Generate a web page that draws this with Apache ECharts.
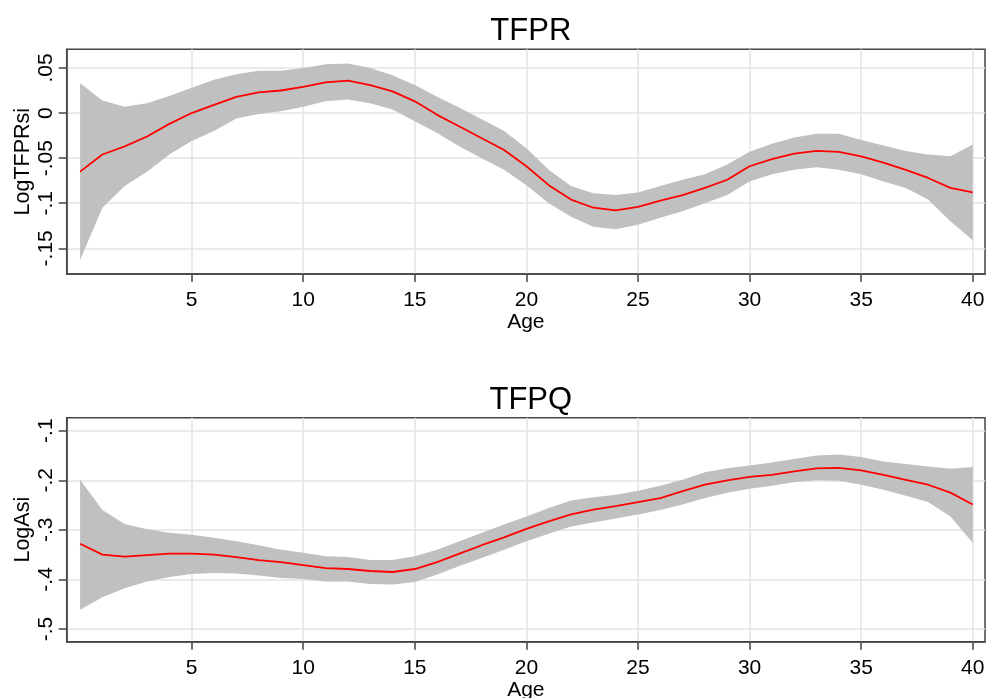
<!DOCTYPE html>
<html>
<head>
<meta charset="utf-8">
<script src="https://cdn.jsdelivr.net/npm/echarts@6/dist/echarts.min.js"></script>
<style>
html,body{margin:0;padding:0;background:#fff;}
#c{width:987px;height:698px;}
</style>
</head>
<body>
<div id="c"></div>
<script>
const ages = [0,1,2,3,4,5,6,7,8,9,10,11,12,13,14,15,16,17,18,19,20,21,22,23,24,25,26,27,28,29,30,31,32,33,34,35,36,37,38,39,40];

const tfpr = [-0.065,-0.046,-0.037,-0.026,-0.012,0.000,0.009,0.018,0.023,0.025,0.029,0.034,0.036,0.031,0.024,0.013,-0.002,-0.015,-0.028,-0.041,-0.059,-0.080,-0.096,-0.105,-0.108,-0.104,-0.097,-0.091,-0.083,-0.074,-0.059,-0.051,-0.045,-0.042,-0.043,-0.048,-0.055,-0.063,-0.072,-0.083,-0.088];
const tfprUpper = [0.033,0.014,0.007,0.011,0.019,0.028,0.037,0.043,0.047,0.047,0.050,0.054,0.055,0.050,0.042,0.031,0.018,0.006,-0.007,-0.020,-0.039,-0.063,-0.081,-0.089,-0.091,-0.088,-0.081,-0.074,-0.068,-0.057,-0.043,-0.034,-0.027,-0.023,-0.023,-0.030,-0.036,-0.042,-0.046,-0.048,-0.035];
const tfprLower = [-0.163,-0.105,-0.081,-0.065,-0.046,-0.031,-0.020,-0.006,-0.001,0.002,0.007,0.013,0.015,0.011,0.004,-0.009,-0.022,-0.037,-0.050,-0.063,-0.080,-0.100,-0.115,-0.126,-0.129,-0.124,-0.116,-0.109,-0.100,-0.091,-0.076,-0.068,-0.063,-0.060,-0.063,-0.068,-0.076,-0.083,-0.096,-0.120,-0.141];

const tfpq = [-0.328,-0.350,-0.354,-0.351,-0.348,-0.348,-0.350,-0.355,-0.361,-0.365,-0.371,-0.377,-0.379,-0.383,-0.385,-0.379,-0.365,-0.348,-0.331,-0.315,-0.298,-0.283,-0.269,-0.259,-0.252,-0.244,-0.236,-0.222,-0.209,-0.200,-0.193,-0.189,-0.182,-0.176,-0.175,-0.180,-0.189,-0.199,-0.209,-0.225,-0.249];
const tfpqUpper = [-0.199,-0.260,-0.288,-0.299,-0.306,-0.310,-0.316,-0.323,-0.331,-0.340,-0.346,-0.353,-0.355,-0.361,-0.361,-0.353,-0.340,-0.323,-0.306,-0.289,-0.273,-0.256,-0.241,-0.234,-0.229,-0.221,-0.211,-0.199,-0.184,-0.176,-0.170,-0.164,-0.157,-0.150,-0.148,-0.153,-0.162,-0.167,-0.172,-0.177,-0.173];
const tfpqLower = [-0.461,-0.436,-0.418,-0.404,-0.395,-0.389,-0.387,-0.388,-0.392,-0.397,-0.399,-0.404,-0.404,-0.409,-0.410,-0.405,-0.390,-0.373,-0.357,-0.340,-0.323,-0.308,-0.293,-0.285,-0.277,-0.269,-0.260,-0.249,-0.236,-0.225,-0.217,-0.211,-0.204,-0.200,-0.201,-0.209,-0.219,-0.231,-0.244,-0.273,-0.326];

const xTicks = [5,10,15,20,25,30,35,40];
const yTicksTop = [-0.15,-0.1,-0.05,0,0.05];
const yTickLabelsTop = ['-.15','-.1','-.05','0','.05'];
const yTicksBottom = [-0.5,-0.4,-0.3,-0.2,-0.1];
const yTickLabelsBottom = ['-.5','-.4','-.3','-.2','-.1'];

const titles = ['TFPR','TFPQ'];
const yNames = ['LogTFPRsi','LogAsi'];
const xName = 'Age';

const FONT = "'Liberation Sans', Arial, sans-serif";
const pairs = (xs, ys) => xs.map((x, i) => [x, ys[i]]);

function labelFmt(ticks, labels) {
  return v => {
    for (let i = 0; i < ticks.length; i++) if (Math.abs(ticks[i] - v) < 1e-9) return labels[i];
    return '';
  };
}

function xAxisFor(gi) {
  return {
    type: 'value', gridIndex: gi, min: -0.6, max: 40.55,
    name: xName, nameLocation: 'middle', nameGap: 38, nameMoveOverlap: false,
    nameTextStyle: {fontSize: 21, color: '#000', fontFamily: FONT},
    axisLine: {show: true, onZero: false, lineStyle: {color: '#444', width: 1.5}},
    axisTick: {show: true, length: 8, lineStyle: {color: '#444', width: 1.5}, customValues: xTicks},
    axisLabel: {fontSize: 21, color: '#000', fontFamily: FONT, margin: 16, customValues: xTicks},
    splitLine: {show: true, lineStyle: {color: '#e3e3e3', width: 1.5}}
  };
}
function yAxisFor(gi, min, max, ticks, labels, name) {
  return {
    type: 'value', gridIndex: gi, min: min, max: max,
    name: name, nameLocation: 'middle', nameGap: 33, nameMoveOverlap: false,
    nameTextStyle: {fontSize: 21.5, color: '#000', fontFamily: FONT},
    axisLine: {show: true, onZero: false, lineStyle: {color: '#444', width: 1.5}},
    axisTick: {show: true, length: 8, lineStyle: {color: '#444', width: 1.5}, customValues: ticks},
    axisLabel: {fontSize: 21, color: '#000', fontFamily: FONT, rotate: 90, margin: 10,
      customValues: ticks, formatter: labelFmt(ticks, labels)},
    splitLine: {show: true, lineStyle: {color: '#e3e3e3', width: 1.5}}
  };
}
function bandSeries(gi, up, lo) {
  return {
    type: 'custom', xAxisIndex: gi, yAxisIndex: gi, silent: true, animation: false, z: 2,
    data: ages.map((a, i) => [a, lo[i], up[i]]),
    encode: {x: 0, y: [1, 2]},
    renderItem: function (params, api) {
      if (params.dataIndex !== 0) return null;
      const pts = [];
      for (let i = 0; i < ages.length; i++) pts.push(api.coord([ages[i], up[i]]));
      for (let i = ages.length - 1; i >= 0; i--) pts.push(api.coord([ages[i], lo[i]]));
      return {type: 'polygon', shape: {points: pts}, style: {fill: '#c0c0c0', stroke: null}};
    }
  };
}
function lineSeries(gi, mid) {
  return {type: 'line', xAxisIndex: gi, yAxisIndex: gi, data: pairs(ages, mid),
    symbol: 'none', lineStyle: {color: '#ff0000', width: 1.8}, z: 3, silent: true, animation: false};
}

const chart = echarts.init(document.getElementById('c'), null, {renderer: 'canvas'});
chart.setOption({
  backgroundColor: '#ffffff',
  animation: false,
  title: [
    {text: titles[0], left: 525.8, top: 11, textAlign: 'center',
     textStyle: {fontSize: 31, fontWeight: 'normal', color: '#000', fontFamily: FONT}},
    {text: titles[1], left: 525.8, top: 380, textAlign: 'center',
     textStyle: {fontSize: 31, fontWeight: 'normal', color: '#000', fontFamily: FONT}}
  ],
  grid: [
    {left: 66.7, top: 49.3, right: 2, height: 224.7, show: true, borderColor: '#444', borderWidth: 1.5, outerBoundsMode: 'none'},
    {left: 66.7, top: 417.7, right: 2, height: 224, show: true, borderColor: '#444', borderWidth: 1.5, outerBoundsMode: 'none'}
  ],
  xAxis: [xAxisFor(0), xAxisFor(1)],
  yAxis: [
    yAxisFor(0, -0.1785, 0.0707, yTicksTop, yTickLabelsTop, yNames[0]),
    yAxisFor(1, -0.5256, -0.0738, yTicksBottom, yTickLabelsBottom, yNames[1])
  ],
  series: [
    bandSeries(0, tfprUpper, tfprLower), lineSeries(0, tfpr),
    bandSeries(1, tfpqUpper, tfpqLower), lineSeries(1, tfpq)
  ]
});
</script>
</body>
</html>
